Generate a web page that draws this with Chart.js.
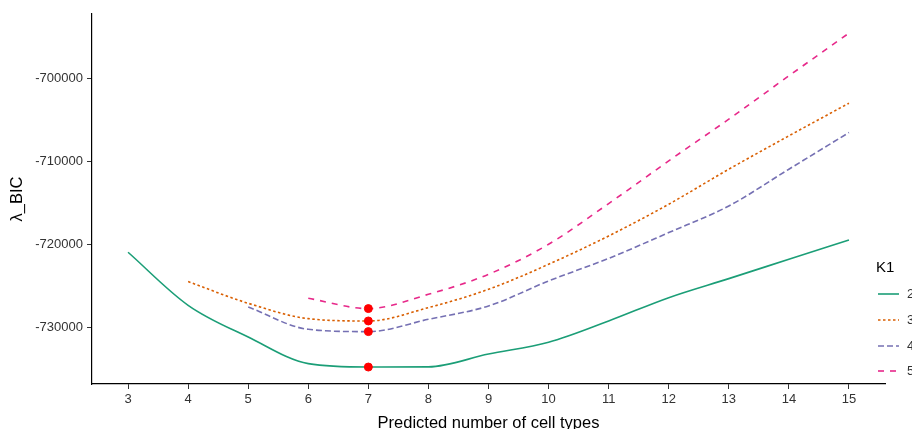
<!DOCTYPE html>
<html>
<head>
<meta charset="utf-8">
<script src="https://cdn.jsdelivr.net/npm/chart.js@4/dist/chart.umd.min.js"></script>
<style>
  html, body { margin: 0; padding: 0; background: #fff; overflow: hidden; }
  canvas { display: block; }
</style>
</head>
<body>
<canvas id="bic" width="912" height="429"></canvas>
<script>
// x values (predicted number of cell types)
const cellTypes = [3, 4, 5, 6, 7, 8, 9, 10, 11, 12, 13, 14, 15];

// lambda_BIC for each K1, null where the curve is not drawn
const bicK2 = [-720964, -727349, -731168, -734373, -734783, -734760, -733213, -731800, -729237, -726430, -724136, -721807, -719482];
const bicK3 = [null, -724498, -727108, -728956, -729237, -727627, -725422, -722410, -719000, -715181, -710964, -706948, -703012];
const bicK4 = [null, null, -727550, -730241, -730518, -729036, -727430, -724418, -721700, -718594, -715386, -710964, -706546];
const bicK5 = [null, null, null, -726506, -727747, -726024, -723614, -720000, -715100, -709960, -704940, -699723, -694578];

// minimum of each curve (red dots)
const bestX = [7, 7, 7, 7];
const bestY = [-734783, -729237, -730518, -727747];

const seriesNames = ['2', '3', '4', '5'];
const xTicks = [3, 4, 5, 6, 7, 8, 9, 10, 11, 12, 13, 14, 15];
const yTicks = [-730000, -720000, -710000, -700000];

const colors = ['#1B9E77', '#D95F02', '#7570B3', '#E7298A'];
const dashes = [[], [2.5, 2.5], [6, 3], [6, 6]];

const FONT = "'Liberation Sans', Arial, sans-serif";

function toPoints(vals){
  return cellTypes.map((x, i) => ({x: x, y: vals[i]})).filter(p => p.y !== null);
}

const lineSets = [bicK2, bicK3, bicK4, bicK5].map((vals, i) => ({
  type: 'line',
  label: seriesNames[i],
  data: toPoints(vals),
  borderColor: colors[i],
  borderWidth: 1.6,
  borderDash: dashes[i],
  pointRadius: 0,
  fill: false,
  cubicInterpolationMode: 'monotone',
  order: 1
}));

const dotSet = {
  type: 'scatter',
  label: 'best',
  data: bestX.map((x, i) => ({x: x, y: bestY[i]})),
  backgroundColor: '#FF0000',
  borderColor: '#FF0000',
  pointRadius: 4,
  order: 0
};

// legend drawn by hand to sit where ggplot put it
const k1Legend = {
  id: 'k1Legend',
  afterDraw(chart){
    const ctx = chart.ctx;
    ctx.save();
    ctx.fillStyle = '#000';
    ctx.font = '15px ' + FONT;
    ctx.textBaseline = 'middle';
    ctx.textAlign = 'left';
    ctx.fillText('K1', 876, 268);
    const rows = [294, 320, 346, 371];
    lineSets.forEach((ds, i) => {
      ctx.beginPath();
      ctx.strokeStyle = ds.borderColor;
      ctx.lineWidth = 1.6;
      ctx.setLineDash(ds.borderDash);
      ctx.moveTo(878, rows[i]);
      ctx.lineTo(899, rows[i]);
      ctx.stroke();
      ctx.setLineDash([]);
      ctx.fillStyle = '#333';
      ctx.font = '13px ' + FONT;
      ctx.fillText(ds.label, 907, rows[i]);
    });
    ctx.restore();
  }
};

new Chart(document.getElementById('bic'), {
  type: 'line',
  data: { datasets: [dotSet, ...lineSets] },
  plugins: [k1Legend],
  options: {
    responsive: false,
    animation: false,
    layout: { padding: { top: 14, right: 27, left: 0, bottom: 0 } },
    plugins: { legend: { display: false }, tooltip: { enabled: false } },
    scales: {
      x: {
        type: 'linear',
        min: 2.4,
        max: 15.6,
        afterBuildTicks: s => { s.ticks = xTicks.map(v => ({value: v})); },
        afterFit: s => { s.height = 45; },
        grid: { drawOnChartArea: false, drawTicks: true, tickLength: 5, tickColor: '#333', tickWidth: 1 },
        border: { display: true, color: '#000', width: 1.2 },
        ticks: { color: '#333', padding: 3, maxRotation: 0, font: { family: FONT, size: 13 }, callback: v => String(v) },
        title: { display: true, text: 'Predicted number of cell types', color: '#000',
                 font: { family: FONT, size: 16.5, lineHeight: 0.7 }, padding: { top: 0, bottom: 0 } }
      },
      y: {
        type: 'linear',
        min: -736825,
        max: -692275,
        afterBuildTicks: s => { s.ticks = yTicks.map(v => ({value: v})); },
        afterFit: s => { s.width = 92; },
        grid: { drawOnChartArea: false, drawTicks: true, tickLength: 5, tickColor: '#333', tickWidth: 1 },
        border: { display: true, color: '#000', width: 1.2 },
        ticks: { color: '#333', padding: 4, font: { family: FONT, size: 13 }, callback: v => String(v) },
        title: { display: true, text: 'λ_BIC', color: '#000',
                 font: { family: FONT, size: 16.5, lineHeight: 1.2 }, padding: { top: 8, bottom: 0 } }
      }
    }
  }
});
</script>
</body>
</html>
